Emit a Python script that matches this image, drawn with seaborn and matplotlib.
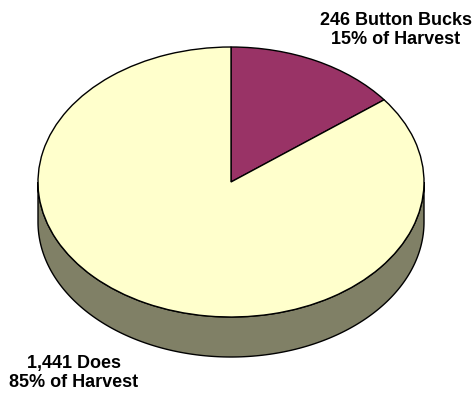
import numpy as np
import matplotlib
matplotlib.use("Agg")
import matplotlib.pyplot as plt
import seaborn as sns

# Harvest breakdown
labels = ["Button Bucks", "Does"]
counts = [246, 1441]
colors = ["#993366", "#FFFFCC"]
side_color = "#808066"

sns.set_style("white")
plt.rcParams["font.family"] = ["Liberation Sans", "DejaVu Sans"]

W, H = 475, 395
fig = plt.figure(figsize=(W / 100, H / 100), dpi=100)
ax = fig.add_axes([0, 0, 1, 1])

# ellipse geometry in pixels (center, semi axes, depth)
cx, cy, a, b, depth = 231, 182, 193, 135, 40
d = depth / b

# side of the cylinder (front half only)
t = np.linspace(np.pi, 2 * np.pi, 200)
xs = np.concatenate([np.cos(t), np.cos(t[::-1])])
ys = np.concatenate([np.sin(t), np.sin(t[::-1]) - d])
ax.fill(xs, ys, color=side_color, ec="black", lw=1, zorder=1)

wedges, _ = ax.pie(counts, colors=colors, startangle=90, counterclock=False,
                   wedgeprops=dict(ec="black", lw=1), radius=1)
for w in wedges:
    w.set_zorder(2)
ax.set_aspect("auto")
ax.set_xlim(-cx / a, (W - cx) / a)
ax.set_ylim(-(H - cy) / b, cy / b)
ax.axis("off")

total = sum(counts)
pct = [round(100 * c / total) for c in counts]
fig.text(396 / W, 1 - 30 / H, f"{counts[0]:,} {labels[0]}\n{pct[0]}% of Harvest",
         ha="center", va="center", fontsize=13, fontweight="bold",
         linespacing=1.2, color="black")
fig.text(74 / W, 1 - 373 / H, f"{counts[1]:,} {labels[1]}\n{pct[1]}% of Harvest",
         ha="center", va="center", fontsize=13, fontweight="bold",
         linespacing=1.2, color="black")

fig.savefig("out.png", dpi=100)
